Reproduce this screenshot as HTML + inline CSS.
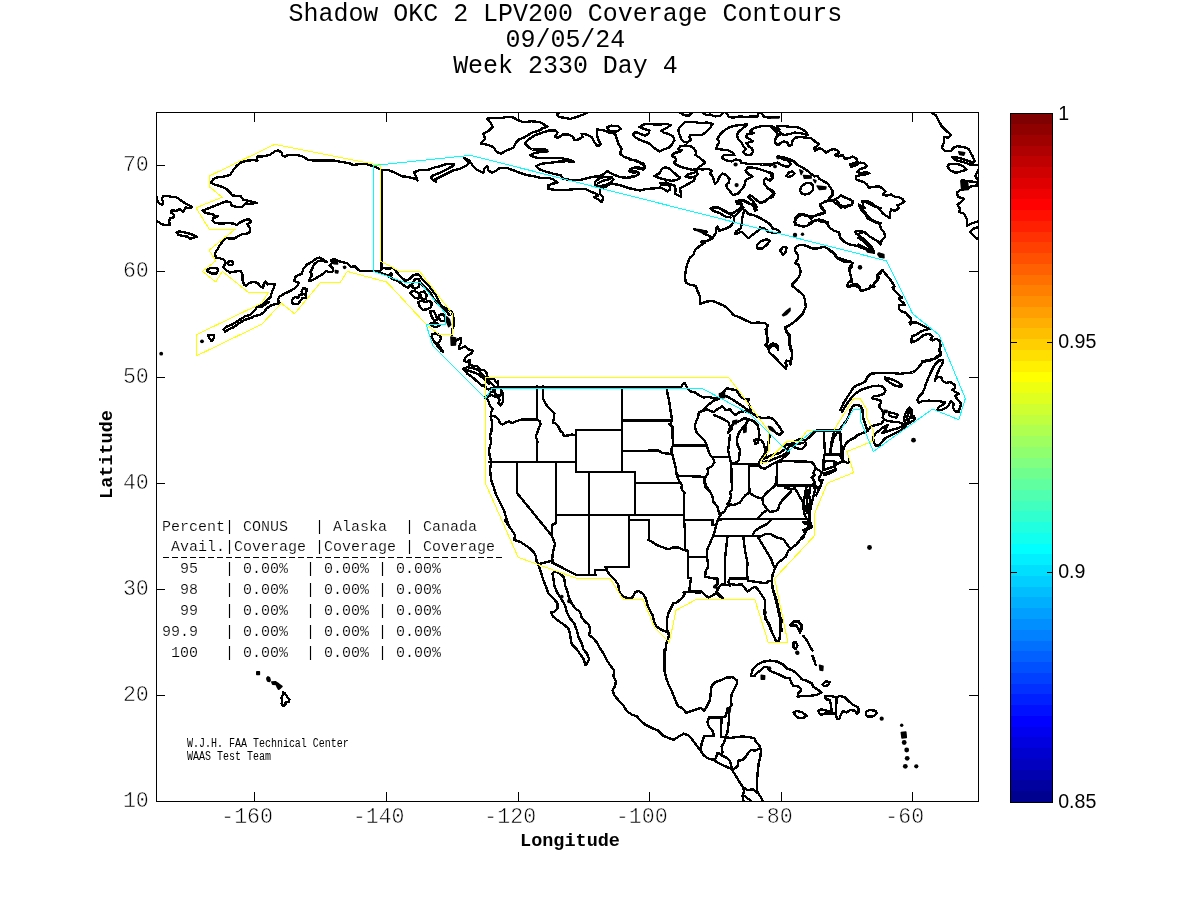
<!DOCTYPE html>
<html><head><meta charset="utf-8"><title>Shadow OKC 2 LPV200 Coverage Contours</title>
<style>
html,body{margin:0;padding:0;background:#fff;}
body{width:1200px;height:900px;overflow:hidden;position:relative;font-family:"Liberation Mono",monospace;}
svg{position:absolute;left:0;top:0;will-change:transform;opacity:0.9999;}
text{font-family:"Liberation Mono",monospace;fill:#000;}
.sans{font-family:"Liberation Sans",sans-serif;}
.tick{font-size:21.6px;stroke:#fff;stroke-width:0.55px;paint-order:fill stroke;}
.tbl{font-size:15px;stroke:#fff;stroke-width:0.2px;white-space:pre;}
.title{font-size:24.95px;text-anchor:middle;}
.axl{font-size:18.5px;font-weight:bold;text-anchor:middle;}
.cb{font-size:19.6px;}
.sm{font-size:10px;white-space:pre;}
</style></head><body>
<svg width="1200" height="900" viewBox="0 0 1200 900">
<rect x="0" y="0" width="1200" height="900" fill="#fff"/>
<defs><clipPath id="mc"><rect x="156.5" y="112.5" width="822" height="688.5"/></clipPath></defs>
<g clip-path="url(#mc)" fill="none" stroke-linejoin="round" stroke-linecap="round">
<path stroke="#000" stroke-width="2.4" shape-rendering="crispEdges" d="M350,163.3 341.7,162 333.3,160.3 325,160.3 316.7,160.7 308.3,160 303.3,156.7 296.7,155 288.3,154.7 285,156.7 282.5,155.8 281.7,152.5 278.3,150.5 275,151.3 270,154.7 263.3,156.3 256.7,156.7 257.5,160.8 254.2,160 246.7,160.8 240.8,162.5 236.7,165.8 233.3,170 230,175 223.3,176.7 216.7,177.5 213.3,179.2 210.8,182.5 215,184.7 221.7,186.7 226.7,189.2 230,192.5 232.5,195.5 240.8,196.3 243.3,199.7 250,201.3 256.7,202.8 250,204.2 245.8,203.3 242.5,206.7 236.7,207 231.7,205.8 230.8,202.5 226.7,201.3 221.7,203 215,205.8 208.3,208.3 202.5,210.8 205.8,213 212.5,214.2 214.2,215.8 218.3,216.3 213.3,218 212.5,220.8 215,223 221.7,223.7 228.3,223 234.2,223.7 236.7,225 240,222.5 245.8,219.7 249.2,219.2 251.3,222 247.5,224.2 250,228.3 250,232 245.8,234.2 241.7,234.2 237.5,236.7 234.2,238.7 228.3,238.3 226.7,237.5 223.3,240.8 220,245 217.5,249.2 215,253.3 215.8,257.5 220,258.3 224.2,259.7 225.8,263.3 223.3,266.7 225.8,270 230,272.5 236.7,271.3 240.8,270.8 242.5,275 242.5,280M227.5,262.5 230,260.8 233,262 233,264.3 230.3,265.3 228,264.3ZM176.7,232.5 179.2,231.3 185,232.5 190,233.7 196.7,236.7 192.5,238 190.8,239.2 187.5,236.7 182.5,235.8 178.3,235ZM156.7,196.7 157.5,200.8 159.2,203.3 162.5,204.7 163.3,201.7 161.7,199.2 163.3,196.3 166.7,195.8 171.7,197 175,196.7 178.3,198.3 182.5,201.7 187.5,204.5 191.7,207 190,208.3 185.8,207.5 183.3,211.7 180.8,209.7 179.2,209.2 176.7,210.8 171.7,210.5 170.8,212.5 174.2,215 173.3,217.5 170,218.3 169.2,221.3 170,224.7 165.8,225 161.7,224.2 156.7,220.8M206.7,270 210.8,268 216.7,268.3 218.3,269.7 216.7,273.3 212.5,273.7 208.3,271.7ZM242.5,280 243.9,284.4 246.2,285.6 249.8,282.7 253.8,281.7 257.9,283.2 260.8,286.8 263.2,287.9 263.8,283.8 265.5,281.7 267.8,284.4 271.3,283.8 274.8,283.8 274.2,286.8 272.5,290.2 271.3,294.3 270.2,297.8 267.2,299.6 264.3,303.1 260.8,305.4 257.3,306.6 255,310.1 251.5,313.6 249.2,315.3 245.7,315.9 242.2,318.2 237.5,321.2 231.7,324.7 227,326.4 223.5,329.3 225.2,331.7 228.8,329.3 234,327 238.7,323.5 244.5,320 251.5,317.7 255,315.9 259.7,314.8 263.8,312.4 266.7,308.3 271.3,305.4 276,303.9 279.5,303.1 277.8,299.6 279.5,296.7 284.2,293.8 289.4,291.4 293.5,289.1 297.6,285.6 298.8,282.7 294.1,280.9 295.8,276.2 301.7,273.9 303.4,268.7 306.9,264.6 312.2,261.7 315.7,258.8 319.2,257.6 322.7,259.3 326.8,261.7 322.7,261.1 318,261.1 313.9,264.6 312.2,268.7 310.4,272.2 312.2,275.1 309.8,278.6 309.2,280.9 313.3,279.8 319.2,276.2 323.8,273.3 326.2,271 329.7,272.2 332.6,271.6 333.2,268.7 329.7,265.2 332,262.8 331.4,259.9 334.9,258.8 337.8,261.1 342.5,262.2 347.2,263.4 351.2,266.9 354.8,266.3 358.2,269.8 360,271M257.3,306.6 260.8,307.2 264.9,304.8 269,301.9M291.8,301.3 292.9,298.4 295.2,297.2 298.2,297.8 299.3,294.9 302.8,294.3 301.7,291.4 303.4,287.9 306.9,289.1 306.3,292 305.2,294.9 306.3,297.8 302.2,298.4 300.5,300.8 298.2,303.7 294.7,304.2 292.3,303.1ZM208.3,335 214.2,335 214.2,337.5 211.7,341.2 209.2,338.3ZM350,163.7 353.3,165 360,164 366.7,164 373.3,166.2 379.2,168.7 381.7,170.3 388.3,170 395,172.8 401.7,176.2 408.3,177 415,178.7 417.5,180.3 415.8,176.2 414.2,172.3 420,170 426.7,170.3 433.3,167.8 440,166.2 446.7,164 454.2,163.7 453.3,165.7 446.7,169.5 440,172.8 433.3,175.3 430.8,177.8 435.8,182 435,179.5 440,177 446.7,173.7 453.3,170.3 460,168.7 466.7,165.3 469.2,162.8 464.2,157.8 469.2,160.3 472.5,165.3 476.7,169.5 483.3,172.8 484.2,168.7 487.5,166.2 488.3,170.3 491.7,172.8 496.7,170.3 500,167.8 506.7,167.8 513.3,170.3 520,172.8 526.7,175 533.3,176.2 540,177.8M381.3,170.5 381.3,270M540,122.3 531.7,121.2 523.3,122.3 516.7,119.5 511.7,116.7 506.7,117 500,118.3 493.3,117.8 486.7,118.7 490.8,122.8 492.5,127 488.3,131.2 483.3,133.7 485,138.7 480.8,143.7 486.7,144.5 493.3,147 496.7,152 500.8,153.7 506.7,150.3 513.3,147.8 515.8,142.8 519.2,139.5 525,137 531.7,132.8 540,130.3M540,122.3 543.3,124 547.5,126.7 541.7,128.7 540,130.3M525,143.7 528.3,139.5 535,135.3 541.7,132.8 548.3,130.7 555,130.3 557.5,132.8 555,137 558.3,137.8 562.5,134.5 568.3,134.5 573.3,137 574.2,140.3 578.3,139.5 582.5,137 581.7,133.7 586.7,134.5 591.7,137 594.2,142 597.5,146.2 600.8,144.5 598.3,139.5 596.7,134.5 596.7,129.5 603.3,130.3 610,132.8 615,133.7 616.7,138.7 618.3,143.7 621.7,148.7 620,153.7 624.2,157 631.7,159.5 638.3,162 644.2,165.3 644.2,168.7 640,167.8 636.7,167 631.7,168.7 629.2,171.2 633.3,172.8 638.3,172 638.3,174.5 633.3,177 626.7,177.8 620,177 613.3,174.5 607.5,171.2 603.3,174.5 598.3,176.2 591.7,177 585,178.7 578.3,180.3 570,180 563.3,178.7 560.8,175.3 553.3,173.7 546.7,172 540,169.5 535.8,166.2 541.7,163.7 550,162.8 558.3,161.7 566.7,161.2 574.2,161.7 568.3,159.5 561.7,158.3 553.3,157.8 545,157.8 536.7,157.8 530,155.3 535,152.8 541.7,152 547.5,151.2 545,149.5 538.3,149.5 532.5,149.5 528.3,147ZM606.7,127 611.7,125.7 618.3,126.2 620.8,128.7 617.5,131.2 612.5,131.7 608.3,130.3ZM587.5,112.3 583.3,114.5 576.7,117 570,119 565,117.8 559.2,117 556.7,114 560,112.3M595,182 600,177.8 606.7,176.7 611.7,177 613.3,179.5 610.8,182.8 605,185.3 598.3,186.2 595,184.5ZM598.3,183.3 603.3,180.7 610,179M540,177.8 548.3,177.8 553.3,179.5 557.5,182.8 552.5,183.7 548.3,185.3 548.3,188.7 555,190 563.3,190.3 571.7,189.5 578.3,188.7 585,188.7 590,191.2 595.8,193.7 598.3,195.3 594.2,197 598.3,199.5 601.7,202 603.3,197.8 600,193.7 600,188.7 605,187 610.8,183.7 616.7,184.5 623.3,186.2 630,188.7M639.4,127 643.8,124.5 648.8,123.9 654.4,124.5 660,124.5 666.2,123.9 670.6,125.1 666.2,128.2 661.2,130.8 663.8,132.6 668.8,133.9 673.1,136.4 674.4,140.1 671.9,144.5 668.8,147.6 663.8,149.5 659.4,151.4 656.2,149.5 652.5,146.4 648.8,143.2 643.8,141.4 638.8,139.5 635,137 633.1,134.5 635.6,132 640.6,133.9 645,135.8 648.8,133.2 649.4,130.1 645.6,129.5 641.9,128.2ZM678.8,128.2 682.5,124.5 685,122 692.5,121.8 700,123 707.5,122.6 712.5,123.9 710,128.2 706.2,132 701.9,135.1 696.2,135.1 690.6,135.1 688.8,137 691.2,139.5 687.5,142.6 683.8,142 681.2,138.9 679.4,134.5 678.5,131.4ZM698.1,168.9 692.5,169.8 686.2,168.2 681.2,167 676.9,165.1 673.8,162.6 676.2,160.1 675,157.6 671.9,155.8 675,152.6 680,152 681.9,150.1 678.1,149.5 680,146.4 685,145.5 690,146 693.8,148.2 696.2,152 695.6,155.1 699.4,157.6 702.5,160.1 705,162.6 701.9,165.1 698.8,167 698.1,168.9 702.5,169.5 708.1,168.9 711.9,170.8 710,173.2 712.5,176.4 713.8,180.1 715,183.9 717.5,181.4 719.4,177 722.5,173.5 726.2,175.1 729.4,178.9 728.8,182.6 726.2,184.5 726.9,187.6 730,191.4 733.1,195.1 737.5,193.9 741.2,190.1 744.4,185.8 745.6,180.1 748.8,178.2 752.5,176.4 748.1,173.9 745.6,170.8 747.5,167.6 752.5,167.6 758.8,168.9 766.2,171.4 771.2,173.2 771.9,178.2 768.8,180.1 765.6,178.2 763.8,180.1 764.4,183.9 767.5,188.2 771.2,190.8 773.8,193.2 770,197.6 765,200.8 760.6,203.2 756.2,200.1 753.1,197 750,195.1 748.1,197 751.9,200.1 755,203.9 756.9,207 755,210.8 753.1,205.1 750,203.9 745.6,200.8 740,200.1 736.2,201.4 736.9,203.9 741.9,204.5 742.5,206.4 738.8,209.5 733.8,212.6 730,213.9 725,210.8 720,208.2 715,207 710.6,208.2M654.4,176 659.4,173.2 661.9,168.9 665,167.2 670,168.9 673.8,172.6 677.5,175.8 680,177.6 676.9,180.1 671.2,180.8 665,179.5 659.4,178.2ZM685.6,177 688.8,173.9 693.8,173 696.9,170.8 697.5,174.5 694.4,177 690,177.6ZM630,188.2 635,189.5 640,190.5 646.2,188.9 653.8,188.5 660,187.6 663.8,188.9 667.5,191.4 670,189.5 670,186.4 666.2,184.5 661.2,185.1 660.6,183 666.2,182.6 671.2,184.5 675,185.8 675.6,190.1 675,193.9 681.2,197 680.6,192.6 680,188.2 685,185.8 689.4,183.2 693.8,180.8 695,177.6M746.9,124.5 740,125.1 733.8,125.8 728.8,127.6 723.8,130.8 720,134.5 717.5,138.9 719.4,142 717.5,145.1 716.2,148.9 721.2,149.5 727.5,150.1 732.5,152.6 734.4,155.1 730,155.1 723.8,155.1 721.9,157.6 725,160.1 731.2,161.4 735.6,159.5 740,160.1 741.2,162.6 747.5,163.9 755,163.9 762.5,164.5 770,164.5 775,163.2 779.4,163.2M746.9,124.5 743.1,128.2 738.8,131.4 736.9,135.1 738.1,138.9 741.2,142 743.1,145.8 745.6,148.9 743.1,152 745.6,154.5 750.6,155.1 753.1,152 751.9,148.2 748.8,146.4 746.2,143.2 750,142 753.1,141.4 749.4,138.9 746.2,137 747.5,133.9 753.8,133.2 750,130.8 753.8,128.2 760,126.4 766.2,125.8 771.2,125.8 775,128.2 779.4,129.5M779.4,135.1 776.2,137 775,141.4 776.9,144.5 779.4,145.1M680,112.6 683.8,115.1 688.8,115.8 691.9,112.6M702.5,112.6 706.2,115.1 710,114.5 715,116.4 720,115.8 723.1,112.6M726.2,112.6 728.8,117 733.8,117.6 740,116.4 746.2,117 752.5,116.4 757.5,116.4 758.8,112.6M761.2,112.6 763.8,116.4 768.8,117.6 773.8,117 779.4,117M630,159.5 635,160.1 639.4,162 643.8,163.9 645,167.6 643.8,169.5 639.4,168.9 635,167.6 630,169.5M630,172 635,170.8 638.8,173.2 636.2,175.8 630,177M770,125.8 773.8,129.5 777.5,133.2 776.9,136.4 775,139.5 775,143.2 777.5,145.1 781.2,142.6 783.8,141.4 787.5,142.6 788.8,145.8 791.9,145.1 792.5,140.8 795,137.6 800,137 806.2,137.6 811.2,138.2 815,141.4 818.8,143.9 816.9,146.4 813.8,148.2 815,150.8 819.4,148.2 822.5,149.5 826.2,152.6 830,150.1 833.8,148.9 838.1,150.8 838.8,153.2 835,155.1 838.1,156.4 842.5,155.1 845,158.9 848.8,158.2 852.5,156.4 856.2,158.2 857.5,161.4 853.8,163.2 850,164.5 851.2,167 856.2,165.1 860,162.6 864.4,163.2 866.9,166.4 863.8,168.2 860,168.9 857.5,172 861.2,173.2 866.2,172 869.4,173.2 865,174.5 860,175.1 856.2,176.4 856.2,179.5 860,180.8 863.8,182 866.9,184.5 868.8,187.6 873.8,186.8 878.8,186.4 882.5,188.2 885.6,191.4 883.1,194.5 886.2,195.8 891.2,194.5 895,197 898.8,197 902.5,198.9 904.4,201.4 901.2,203.9 897.5,205.1 898.8,208.2 895,210.8 891.2,209.5 890,213.2 890,218.2 886.2,215.8 882.5,213.2 880,209.5 877.5,207 873.8,205.1 870,202 866.2,200.8 862.5,202 863.1,205.8 865,208.2 862.5,208.2 858.8,204.5 860.6,208.9 863.1,212 865.6,213.9 867.5,218.2 871.2,220.1 876.2,222.6 880,223.9M776.9,126.4 782.5,125.8 790,126.8 796.9,127 802.5,129.5 806.9,132.6 807.5,135.1 801.2,133.2 795,132.6 790,133.9 785,135.1 781.2,133.9 778.8,130.8ZM770,165.8 773.8,163.2 777.5,162.6 780.6,164.5 785,166.4 788.8,166.4 790.6,163.9 788.8,160.8 783.8,159.5 779.4,157.6 777.5,156.4 782.5,157 788.8,158.9 793.8,161.4 797.5,165.1 802.5,167.6 807.5,170.8 811.2,173.9 814.4,176.4 817.5,175.8 819.4,178.9 823.8,181.4 827.5,183.2 830,187 832.5,190.8 832.5,195.1 829.4,198.2 831.2,200.8 835,199.5 838.1,197.6 840.6,195.1 845,197.6 850,199.5 853.1,201.4 851.9,205.1 846.2,205.8 841.2,207.6 838.1,205.1 835,202.6 830,199.5 825,201.4 820,204.5 821.2,208.2 825,211.4 822.5,213.9 817.5,215.1 812.5,216.4 811.2,219.5 808.8,216.4 803.8,214.5 798.8,214.5 795.6,217.6 794.4,222 795,224.5M808.8,223.2 813.8,220.8 818.8,219.5 823.8,220.8 828.1,222.6M800,190.1 801.9,185.8 806.2,183 810.6,183.2 813.1,185.8 813.1,190.1 810,193.2 805,194.5 801.2,193.2ZM786.2,175.8 788.8,172.6 792.5,171.4 794.4,173.2 792.5,175.8 788.8,177ZM770,172 772.5,173.9 773.1,177.6 771.2,180.1 770,180.8M770,189.5 773.1,190.8 774.4,193.2 772.5,197 770,198.2M931.7,112.8 935.8,115.3 938.3,120.3 941.7,126.2 946.7,131.2 950.8,134.5 948.3,137.8 944.2,137 944.2,142 941.7,147.8 945,151.2 950.8,151.2 953.3,147.8 957.5,146.2 963.3,147 968.3,148.7 971.7,154.5 975,161.2 973.3,162.8 966.7,160.3 958.3,157.8 951.7,157 955.8,160.3 963.3,162 970,164.5 978.3,165.3M950,163.7 947.5,166.2 950,170.3 955.8,172.8 961.7,171.2 966.7,169.5 963.3,166.2 956.7,163.7ZM978.3,170.3 975,176.2 978.3,180.3M961.7,180.3 968.3,181.2 975,182 978.3,182.8M962.5,182.8 966.7,187.8M978.3,185.3 971.7,186.2 966.7,188.7 960,190.3 956.7,192.8 958.3,197 964.2,198.7 960,202.8 957.5,204.5 960,208.7 959.2,212 964.2,213.7 966.7,218.7 966.7,226.2 970.8,223.7 978.3,221.2M978.3,227 973.3,228.7 970,232 975,237 978.3,239.5M880,223.7 880.8,228.7 884.2,232 885,237 881.7,240.3 880.8,244.5 877.5,241.2 873.3,238.7 869.2,236.2 864.2,232 860.8,232.8 858.3,234.5M858.3,237.8 860,238.7 865,242.8 870,247.8 874.2,252.8 870,250.3 863.3,247 860,245.3 858.3,244.5M360,271.1 364,271.3 370.7,271.1 376,270.7 378.7,271.3 382.7,274 388,275.3 391.3,273.3 392,275.3 389.3,276.7 393.3,279.3 398.7,281.3 402.7,284.7 408,288 409.3,286 412,284M382,247.3 382,268 388,268.7 393.3,268 396,271.3 400,276 405.3,280.7 409.3,279.3 413.3,275.3 417.3,274 420,276 422.7,280 428,284.7 432,290 436,295.3 438.7,301.3 441.3,306 446.7,308.7 452,312 453.3,316.7 454,322 453.3,326.7 452,330 452,335.3M420,282.7 425.3,288 430.7,292.7 433.3,298 437.3,303.3 442.7,308.7 446.7,311.3 449.3,315.3M410,293.3 412.7,290.7 417.3,292 420,296 418,298.7 414,297.3ZM420,292.7 424,291.3 426.7,294.7 426,298.7 422.7,300 420.7,296.7ZM418,302 421.3,300.7 425.3,302 429.3,300.7 432,303.3 430.7,307.3 426.7,309.3 422.7,310 420,307.3ZM412,284 415.3,278.7 418.7,278.7 420,282.7 418.7,286.7 415.3,288.7 412.7,287.3ZM430,311.3 433.3,310.7 436,315.3 437.3,319.3 434.7,321.3 432,317.3ZM438.7,315.3 442.7,314 445.3,316.7 444.7,320.7 441.3,321.3 439.3,318.7ZM430.7,323.3 436,322.7 439.3,325.3 436,327.3 432,326ZM432,334 436,333.3 439.3,335.3 441.3,338 439.3,342 437.3,343.3 440,347.3 443.3,352 441.3,350.7 438,346.7 435.3,343.3 433.3,340 431.7,336.7ZM456,340.7 460.7,338 461.3,342 459.3,346 458.7,349.3 462.7,347.3 465.3,346 468,349.3 472.7,350.7 471.3,353.3 468,355.3 465.3,358 464,360.7 466.7,362 470,360 469.3,364.7 473.3,366 477.3,366 480,369.3M480,369.4 485,370.6 486.9,373.8 486.9,376.9 490,378.8 494.4,379.4 496.2,382.5 498.1,381.2 498.1,386M463.1,368.8 467.5,367.2 472.5,368.1 476.9,369.4 480.6,372.5 483.8,375.6 487.5,379.4 491.2,383.1 494.4,386.2 495,390 491.9,388.1 488.8,389.4 485.6,388.1 485,385 481.9,385.6 479.4,383.1 476.9,381.2 474.4,378.8 471.2,376.2 467.5,373.8 465,371.2ZM466.2,370 472.5,371.9 478.8,374.4 483.8,378.8 488.8,383.8M485,397.5 488.1,395 491.2,391.9 494.4,391.2 495.6,394.4 499.4,396.2 501.9,393.8 501.2,389.4 503.1,395 503.1,401.2 500.6,405.6 498.1,403.1 500,400 498.1,397.5 494.4,396.2 491.2,395 488.1,396.9 486.9,398.8 488.8,401.9 490,406.2 492.5,408.8 491.2,412.5 490.6,416.9 491.9,421.2 491.9,426.2 491.2,432.5M491.5,415.6 496.2,416.9 498.8,420 500,423.1 502.5,424.4 506.2,422.5 509.4,421.2 511.9,423.1 516.2,421.2 522.5,419.4 528.8,419.4 536.9,419.4M536.9,386.2 536.9,419.4 540,421.2 540.6,424.4 538.8,427.5 537.5,432.5M543.1,386.2 543.1,398.8 545.6,403.8 548.8,408.1 551.9,411.2 554.4,413.1 553.8,418.1 553.1,422.5 556.2,423.8 558.8,427.5 560.6,431.2 563.1,433.1M681.2,387.1 683.1,383.8 685,383.1 686.2,386.2 687.5,388.8 690,391.2 695,392.5 698.8,395 703.8,397.5 708.8,396.9 713.8,398.1 718.8,398.8 713.8,400.6 708.8,404.4 705,408.1 701.9,411.2M720,395 723.8,391.9 726.9,388.1 731.2,389.4 736.2,390 738.8,393.8 741.2,397.5 745,399.4 748.8,398.8 748.1,402.5 750,406.9 750.6,411.2M725,395.6 730,398.1 736.2,401.9 742.5,406.2 748.8,410.6 751.2,412.5M701.9,411.2 706.9,409.4 711.2,411.2 713.8,411.9 718.1,408.8 722.5,406.2 725.6,410 730,409.4 732.5,412.5 735.6,415 740,411.9 745,411.2 750,412.5M701.9,411.2 698.8,412.5 698.1,417.5 696.2,421.2 695,425 695.6,430 696.9,433.1 701.2,436.9 705,441.2 706.9,445 708.1,450 710,455 713.1,458.1 714.4,462.5 711.9,466.2 707.5,468.8 708.1,473.1 705.6,476.9 704.4,481.2 706.2,485.6 707.5,488.1M713.8,415 720,417.5 725,420 728.8,422.5 730,427.5 728.1,433.1M728.1,433.1 731.2,430 732.5,425 733.1,422.5 737.5,421.9 741.2,420 745,418.1 748.8,419.4M730,435 729.4,440 728.8,445 728.1,450 729.4,456.2 730.6,461.2 732.5,463.8 736.2,462.5 738.8,460 739.4,455 740,450 737.5,445 736.9,440 738.1,435 740,431.2 742.5,428.1 745.6,425 746.9,421.9 748.8,419.4M748.8,419.4 753.8,421.2 757.5,425 758.8,430 759.4,435 758.8,438.8 757.5,443.1 755,443.8 754.4,440 756.2,439.4 758.8,439.4 761.2,440 763.8,443.8 765,448.8 765.6,452.5 763.8,455 761.9,458.1 760,461.2M751.2,412.5 756.2,416.2 762.5,418.1 768.8,417.5 773.1,418.8 776.2,422.5 780,427.5 782.5,431.9 780,435 776.2,433.1 773.1,430 770,427.5M770,435 768.8,440 768.1,445 766.9,450 765.6,452.5M666.9,387.5 667.5,393.8 669.4,402.5 670.6,411.2 671.9,418.8 671.2,423.1 669,424.4 672.5,426.2 672.5,435 673.1,445.6 671.2,448.8 671.9,453.1 673.8,460 675.6,467.5 676.9,475.6 679.4,481.2 681.9,485 681.2,488.1M648.8,450.6 658.8,450.6 662.5,453.1 670,453.8 671.9,453.1M673.1,445.6 706.9,445.6M676.9,475.6 705.6,476.9M713.1,456.9 728.8,456.9M732.5,464 758.8,464M759.2,461.7 762.5,459.2 766.2,457.9 770.8,455.4 775,454.2 779.2,453.3 783.3,450.4 785.8,448.8 788.3,450.8 789.2,452.5 786.7,455 783.3,457.9 781.2,460 778.3,461.2 775,462.9 770.8,465 767.9,466.7 764.6,468.8 760.8,467.5 758.8,464.6ZM762.5,462.5 769.2,460.8 774.2,458.8 778.3,457.1 781.7,455.8 785,453.8 787.5,451.7M766.2,454.2 764.2,456.7 761.2,459.2 759.2,461.7M783.8,445 787.1,443.8 791.7,443.8 795,441.2 798.3,439.6 801.7,438.8 804.6,440.4 806.2,444.2 804.2,446.7 802.5,448.8 799.2,448.8 795.8,447.9 793.3,446.7 790.8,445.8 788.3,447.5 786.7,450 785,448.3ZM787.5,445 793.3,445 798.3,443.8 803.3,442.9M804.6,440.4 807.5,438.8 810.8,435.8 814.2,432.5 815.8,430.7 839.6,430.4M824.2,430.7 824.2,440.8 825,453.3 824.2,456.7 823.3,461.7 823.3,470M837.5,432.5 834.2,436.7 832.5,441.7 831.2,447.5 830,454.6M840,430.7 840.8,436.7 841.2,445 841.7,453.3M825,454.6 841.7,454.6M823.8,461.7 829.2,460.8 834.2,461.2 836.7,462.9M834.2,461.2 835,466.7M841.7,453.3 843.3,456.7 841.7,459.2 844.2,461.7 847.5,462.9 849.6,461.7 848.8,459.2M823.3,470 830,467.9 835,465.8 838.3,463.3 841.7,461.7 844.2,461.7M823.3,473.3 827.5,472.5 831.7,470.8 835.8,468.8 835.8,470 832.5,472.1 828.3,473.8 824.2,475ZM777.1,461.7 782.9,461.2 804.2,461.4 812.5,462.5 814.2,465 815.8,468.3 814.2,470.8 813.3,473.3 814.6,475 811.7,477.5 813.3,480 815,482.1 813.3,484.2 811.7,485.4 777.1,485.4 777.1,461.7M815.8,468.3 819.2,470.4 821.7,472.1 820.8,475 819.2,477.5 819.2,480 821.7,481.7 820.8,485.8 819.2,489.2 817.5,492.5 816.2,495.4M749.2,465.4 758.8,465.4M496.5,387 680.6,387M489,462 576,462M537,442 537,462M517,462 517,493 552,536M556,462 556,523 552,525 552,536 555,544 553,552 552,560M556,515 629,515M576,462 576,472 589,472M589,472 589,575M576,430 622,430 622,472 576,472 576,430M622,387 622,430M589,472 635,472 635,515M622,451 659,451M635,483 680,483M629,515 684,515M629,515 629,520 649,520 649,540M629,520 629,567 605,567M606,570 595,570 595,575 589,575M684,492 684,520 685,531 685,550M684,520 713,520 712,525 716,525M688,557 707,557M685,550 688,551 688,578 691,578 690,585 689,592M623.1,420.3 672.3,420.3M563,433 563.8,436.2 567.5,435.5 572.5,434.5 576.2,435.5M537.5,432.5 535.8,436 537,440 537.7,442.5M491.2,432.5 490,435 491.2,442.5 488.8,450 490,457.5 491.2,461.2 490,470 491.2,480 493.8,487.5 496.2,495 500,502.5 503.8,510 506.2,517.5 508.8,526.2M681.2,488 683,491 685.1,492.8M505,520 507.5,524.2 511.7,530 515,535 514.2,540 520,541.7 525,545 530,548.3 533.3,551.7 535.8,555.8 536.7,561.7 538.3,564.2 551.7,560.8 552.8,560.3M552.9,560.3 552.3,562.7 576.9,575.1 595.8,575.1M606.2,568 606.8,570.3M648.3,540 651.7,541.7 656.7,545 663.3,547.5 668.3,549.2 673.3,547.5 678.3,547.5 683.3,550 688.3,550.8M606.7,570.3 610,575 615,580 618.3,585 619.2,591.7 623.3,596.7 628.3,598.3 632.5,597.5 635,592.5 638.3,590.8 642.5,593.3 645.8,598.3 647.5,605 650,610.8 652.5,615 654.2,621.7 656.7,626.7 661.7,630 666.7,631.7 669.2,635M664.2,670.8 665,653.3 666.7,641.7 669.2,635 666.7,628.3 666.7,620 668.3,613.3 671.7,606.7 673.3,603.3 676.7,602.5 681.7,598.3 685,594.2 683.3,592.5 690,591.7 696.7,592.5 700,593.3M538.3,564.2 540.8,571.7 543.3,580 546.7,588.3 548.3,593.3 553.3,598.3 557.5,603.3 557.5,608.3 554.2,611.7 550.8,612.5 553.3,616.7 558.3,620.8 563.3,624.2 568.3,628.3 570,633.3 570.8,640 571.7,644.2 576.7,649.2 580.8,655 584.2,660 585,665 586.7,664.2 589.2,659.2 586.7,653.3 583.3,649.2 581.7,643.3 578.3,636.7 576.7,630 574.2,623.3 570,618.3 566.7,611.7 565,605 560.8,598.3 556.7,591.7 554.2,585 553.3,578.3 552.5,573.3 555,571.7 558.3,572.5 564.2,577.5 565,585 567.5,591.7 569.2,598.3 571.7,603.3 575,608.3 580,611.7 581.7,617.5 585,621.7 589.2,625 590,630 589.2,635 593.3,638.3 597.5,643.3 600,648.3 603.3,653.3 606.7,660 610,665 613.3,669.2M704.2,479.2 705,486.7 710,491.7 712.5,496.7 713.3,501.7 717.5,506.7 719.2,513.3 720,515.8 717.5,520.8 715.8,526.7 714.2,533.3 712.5,537.5 710,543.3 707.5,548.3 706.7,554.2 707.5,560 708.3,566.7 705.8,570.8 705,576.7 713.3,578.3 717.5,578.3 717.5,584.2 714.2,586.7 718.3,588.3 715.8,593.3M720,516.2 721.2,513.1 724.4,511.9 726.2,508.1 728.1,506.2 730,504.4 733.8,505 736.9,503.8 740,502.5 742.5,498.8 745,495.6 749.4,492.5 752.5,495 757.5,497.5 761.9,498.1 763.8,496.2 766.2,493.1 770,490 773.8,486.9 775.6,484.4 776.2,477.5M762.5,498.8 763.1,503.8 766.2,508.1 770,511.9 775,511.2 778.1,509.4 779.4,505 781.9,500.6 785,497.5 788.8,493.8 791.2,491.2 790,488.8 785,486.9M766.2,510.6 762.5,513.1 760,516.2 758.1,518.1M731.2,463.1 731.9,490 730,492.5 731.2,496.2 729.4,501.2 727.5,503.8 728.1,506.2M748.8,464.4 749.4,492.5M717.5,520.8 721.7,519.3 758.3,519.2 808.3,518.7M713.3,536.2 760.8,536.2M770.8,520 766.7,524.2 760,527.5 755,530.8 752.5,535.8M758.3,537.5 765,534.2 770.8,534.2 776.7,537.5 783.3,539.2 790,548.3 792.5,547.5M758.3,537.5 761.7,543.3 766.7,551.7 770.8,558.3 773.3,565 775,568.3M743.3,536.7 745,550 747.5,563.3 746.7,573.3 748.3,580.8 756.7,582 766.7,583.3 768.3,580.8 771.7,580.8M727.5,536.7 725,558.3 725,584.2M730,585.8 728.3,581.7 730,578.3 746.7,578.3M686.7,592 690,591.7 696.7,590.8 701.7,591.7 705,595 708.3,597.5 713.3,595 715.8,593.3 720,596.7 723.3,598.3 720,595 716.7,591.7 719.2,586.7 721.7,584.2 728.3,585 731.7,584.2 736.7,585 741.7,584.2 745,588.3 747.5,591.7 751.7,588.3 755,586.7 758.3,590 761.7,595 765,600 765,606.7 764.2,613.3 766.7,620 770,625 770.8,630.8M808.3,519.2 810,525 806.7,528.3 803.3,530 805,533.3 803.3,537.5 800,540 796.7,544.2 792.5,547.5 788.3,550.8 785.8,556.7 781.7,560 777.5,563.3 775,568.3 772.5,575 771.7,581.7 772.5,588.3 775,596.7 777.5,606.7 780,618.3 781.7,630.8M771.7,581.7 773.3,590 776.7,600 779.5,613.3 780.5,630.8M777.5,485.3 813.3,485.3M785,487.5 790,489.2 795,488.3 798.3,494.2 801.7,500 804.2,505 806.7,511.7M806.7,486.7 805,493.3 804.2,500 803.3,506.7 804.2,513.3 806.7,519.2M810,486.7 809.2,495 810,501.7 808.3,508.3 809.2,515 810,520M807.5,490 807,513.3M813.3,485 815,490 813.3,496.7 811.7,503.3 810,511.7 809.2,518.3M813.3,479.2 815,485 817.5,488.3 820,486.7 822.5,480M803,521.7 810.8,522.5 811.7,527.5 806.7,530 804.2,535 801.7,537.5M804.2,523.3 809.2,525 807.5,528.3M790,625 793.3,621.7 798.3,620.8 801.7,625 800.8,630.8M765,618.3 769.2,625 771.7,631.7 774.2,636.7 775.8,640.8 779.2,640.8 780,635 780.8,628.3 781.7,618.3M790,625 793.3,622.5 797.5,621.7 800.8,625 801.7,629.2 800,632.5 798.3,628.3 795.8,625 791.7,626.3ZM803.3,635.8 806.7,640 809.2,645 812.5,650.8M803.8,636.7 807.2,640.8 809.7,645.8 812,650.3M812.5,655.8 814.2,660.8 815.8,665M813,656.3 814.7,661.3 815.3,664.2M793.3,642.5 795.8,641.7 797.5,645.8 795.8,649.2 793.3,646.7ZM822.5,684.2 825.8,681.3 829.7,682 828.3,685 824.2,686.3ZM750.8,675.8 752.5,670 756.7,665 763.3,661.7 770,660.5 777.5,661.7 783.3,664.7 786.7,668.3 793.3,670.8 798.3,675 801.7,679.2 806.7,680.8 811.7,683.3 813.3,686.7 818.3,690 821.3,692.5 816.7,695 810,695.8 803.3,695.8 797.5,696.7 798.3,693.3 801.3,690 799.2,686.7 793.3,685.8 790.8,681.7 790,678.3 785,677.5 780,675 774.2,672.5 770,670.8 767.5,667.5 764.2,666.7 760.8,670 756.7,673.3 754.2,676.3ZM793.3,712.5 796.7,710.8 802.5,712.5 806.7,715.8 804.2,717.5 799.2,718.3 795.8,715.8ZM818.3,710.8 821.7,709.2 826.7,710.8 831.7,711.3 830.8,705 830,700 825.8,699.2 825,696.3 830.8,695.8 836.7,697.5 840,695.8 845,697.5 848.3,700.8 853.3,705 858.3,707.5 858.3,712.5 856.7,714.2 855,710.8 850,710 846.7,712.5 843.3,710.8 840.8,715 839.2,719.2 836.7,718.3 835.8,713.3 830,713.3 825,713.3 821.7,715 819.2,713.3ZM836.7,697.5 835.8,713.3M865.8,711.7 869.2,710 875.8,710.8 876.7,713.3 873.3,716.3 867.5,716.7 865.8,714.2ZM613.3,669.1 614.3,671.8 613.4,676 615.9,681 615.1,686.1 612.6,690.3 614.3,695.3 618.5,700.3 623.5,705.4 626.8,711.2 631.9,714.6 636.9,716.3 640.3,720.5 645.3,724.7 652,728 657.9,730.5 662.9,735.6 668.8,738.1 673.8,739.8 678.9,736.4 683.9,733.6 688.9,735.6 693.1,740.6 697.3,746.5 700.7,750.7 703.2,754.9 707.4,758.2 713.3,759.9 717.4,762.4 724.2,765.8 730,768.3 732.6,770.8 735.9,775.8 739.3,781.7 742.6,786.7 744.3,790.9 742.6,796 743.5,801M664.6,649.2 664.1,660.1 664.6,670.1 666.3,678.5 668.8,685.2 672.1,691.9 674.7,698.7 678,706.2 682.2,707.9 686.4,712.9 690.6,711.2 695.6,709.6 700.7,707.9 704,711.2 707.4,705.4 709.9,700.3 710.7,693.6 711.6,686.1 715.8,681.9 720.8,680.2 725.8,677.7 732.6,677.2 736.7,680.2 736.7,684.4 734.2,689.4 731.7,694.5 730.9,700.3 731.7,705.4 729.2,707.9 729.2,717.1 728.4,725.5 727.5,732.2 725.8,736.4 729.2,738.1 735.9,737.2 742.6,736.4 749.3,737.2 754.4,738.1 756,742.3 759.4,745.6 761.1,750.7 760.2,757.4 758.6,764.1 757.7,772.5 756.9,780.9 756.9,789.3 757.7,792.6 761.1,797.7 762.8,801.8M700.7,750.7 701.5,744 704,736.4 714.1,735.6 712.4,730.5 709.1,727.2 707.4,722.1 709.1,717.1 721.6,716.8 720.8,737.2 725.8,737.2M709.1,717.6 721.6,717.6M721.6,717.1 725.8,716.3 727.5,708.7 730,707.9M725.8,737.2 724.2,742.3 721.6,746.5 722.5,752.3 720.8,754 717.4,753.2 715.8,758.2 713.3,759.9M720.8,754.9 725.8,757.4 730,760.7 731.7,767.4M731.7,768.3 734.2,769.1 737.6,765.8 738.4,760.7 742.6,759.9 746,756.5 748.5,752.3 751,749.8 754.4,750.7 758.6,749M743.5,787.6 747.7,790.1 752.7,789.3 756.9,792.6M745.1,796 747.7,798.5 751,800.7M694.2,229.2 700,230.8 706.7,231.7 703.3,233.3 709.2,235.8 712.5,238.3 707.5,240.8 700.8,241.7 705,242.5 700,245.8 695,250 693.3,255 690,257.5 687.5,263.3 685.8,270 685,276.7 685.8,282.5 690.8,285 695.8,285.8 697.5,290.8 700,296.7 700,304.2 705.8,301.7 712.5,300.8 718.3,303.3 724.2,305.8 729.2,310 733.3,315 740,317.5 746.7,320.8 751.7,323 758.3,322.5 765,323.3 767.5,325 766.7,331.7 767.5,338.3 766.7,345 770,348.3 773.3,343.3 776.7,345 778.3,350M790.8,350.8 789.2,343.3 790,335 786.7,332.5 785,327.5 790,325 796.7,320 802.5,314.2 805.8,306.7 805,300 803.3,295 798.3,290.8 793.3,286.7 791.7,285 795.8,280.8 799.2,276.7 800.8,271.7 799.2,266.7 798.3,264.2 795,263.3 798.3,258.3 797.5,254.2 795,250.8 795.8,246.7 800,244.7 806.7,245.8 811.7,248.3 818.3,248.3 824.2,246.7 829.2,249.2 834.2,253.3 837.5,257.5 844.2,260 851.7,262.5 851.7,266.7 849.2,270 850.8,276.7 851.7,281.7 848.3,282.5 847.5,286.7 853.3,285.8 858.3,286.7 860.8,290.8 865.8,290 871.7,286.7 874.2,283.3 876.7,280 877.5,275 880.8,273.3M712.5,238 715.8,233.3 715.8,228.3 717.5,226.7 719.2,230.8 724.2,229.2 730,226.7 734.2,221.7 734.2,216.7 730,214.2 723.3,210.8 718.3,207.5 710.8,208.3 713.3,210.8 720,213.3 725.8,216.7 730.8,217.5M734.2,216.7 738.3,212.5 743.3,207.5 740.8,204.2 737.5,202.5 743.3,200.8 748.3,203.3 755,205 756.7,210M744.2,210 742.5,216.7 741.7,223.3 740.8,228.3 735.8,231.7 735,234.2 741.7,231.7 745.8,235.8 748.3,238.3 753.3,234.2 759.2,230 760,227.5 764.2,228.3 768.3,231.7 775,233.3 780,232.5 778.3,230 772.5,228.3 770,224.2 765,220.8 759.2,217.5 753.3,215 748.3,214.2 745.8,210.8ZM756.7,245.8 760,241.7 766.7,239.2 770,240.8 766.7,245 762.5,248.3 757.5,248.3ZM780,250.8 783.3,246.7 786.7,247.5 785.8,251.7 783.3,255ZM755.8,199.2 760,202.5 765,201.7 767.5,199.2M830,200.8 825,201.7 820,204.2 822.5,207.5 825,212.5 818.3,214.2 813.3,216.7 808.3,215.8 801.7,215 796.7,217.5 795,221.7 796.7,225 803.3,226.7 809.2,225 813.3,221.7 817.5,220 821.7,221.7 826.7,222.5 829.2,227.5 834.2,230.8 839.2,232.5 840,237.5 844.2,241.7 846.7,243.3 851.7,245 856.7,245.8 863.3,248.3 870,250.8 874.2,252.5 871.7,246.7 866.7,241.7 861.7,237.5 856.7,234.2 855,231.7 860,230.8 865,232.5M835.8,199.2 840,205 845,207.5 851.7,205 853.3,200.8M859.2,205 863.3,210 868.3,216.7 873.3,220.8 880.8,223.3M862.5,200.8 868.3,203.3 875,206.7 880.8,208.3M829.4,250.6 833.8,253.1 836.2,257.5 840,260 845,261.9 850,261.2 852.5,263.1 850,266.2 848.8,269.4 850.6,275 851.9,280.6 848.8,281.9 847.5,285 849.4,286.9 852.5,284.4 856.9,283.8 859.4,286.2 860,290 864.4,290 868.8,288.8 870.6,285.6 874.4,286.9 873.8,283.8 878.1,279.4 878.8,276.9 876.9,275.6 878.8,273.1 882.5,270 884.4,272.5 888.1,276.9 891.9,281.9 894.4,286.2 892.5,287.5 895.6,291.9 898.1,294.4 901.9,297.5 898.8,298.1 901.2,301.2 903.8,303.1 905,305 901.9,305 898.8,305.6 899.4,309.4 902.5,311.9 905.6,312.5 908.1,315.6 910.6,318.1 911.2,321.9 909.4,322.5 910.6,324.4 912.5,322.5 916.2,322.5 920,324.4 925,326.9 930,328.8 925,330 920,331.9 916.2,335 911.9,336.2 911.2,342.5 916.2,340.6 920,338.1 923.8,335 928.8,333.8 932.5,336.2 930.6,339.4 932.5,340.6 936.2,338.8 940,341.2 940.6,346.2 938.8,350 941.2,353.8 937.5,356.2 933.8,358.8 928.8,360 922.5,361.2M940,349.4 941.2,355 936.2,358.1 930,360.6 923.1,361.9 920,365.6 916.2,370 912.5,372.5 905,373.1 900,373.8 892.5,373.1 885,373.1 877.5,373.1 870.6,373.8 867.5,376.9 865.6,381.2 861.2,383.8 856.9,385 853.1,388.1 850,393.1 846.2,398.8 843.1,403.8 840.6,410M841.9,411.9 846.2,405 850.6,398.8 855,393.8 860.6,390 866.2,388.1 872.5,386.2 878.8,385.6 883.1,386.9 885.6,390.6 883.8,393.8 878.8,395.6 873.8,396.2 871.9,398.1 876.2,399.4 880,400 881.2,402.5 878.8,406.2 881.9,410 883.8,413.8 882.5,417.5 885,420 888.8,421.2 893.8,421.9 898.1,421.9 902.5,423.8 906.2,425M885,377.5 890,378.8 896.2,381.2 901.9,385 901.2,386.9 895,385.6 888.8,381.9 885.6,379.4ZM840,430 841.9,426.2 846.2,421.2 848.8,416.2 850.6,410 853.1,405.6 856.9,404.8 860.6,406.2 862.5,410 863.1,417.5 865,423.8 866.9,428.8 867.5,431.2M867.5,431.2 862.5,433.1 857.5,435 855,437.5 850,440 846.2,443.1 843.8,447.5 842.5,452.5 840.6,456.2 842.5,460M867.5,431.2 871.2,426.2 876.2,425 881.2,423.8 883.8,420M873.8,442.5 873.1,437.5 875.6,433.1 880,430 883.8,426.9 887.5,425 885,430 882.5,433.1 886.2,431.9 891.2,430 896.2,428.8 901.2,426.9 905,425 906.2,426.9 901.2,430 896.2,432.5 891.2,435 886.2,437.5 882.5,441.2 879.4,445 876.2,446.2ZM888.8,412.5 893.8,413.1 898.1,415 896.2,417.5 891.9,416.9 888.8,415ZM903.8,419.4 905,415 906.9,410.6 909.4,407.5 911.9,410 911.2,415 913.8,416.2 915,419.4 911.2,421.9 907.5,423.8 905,422.5ZM906.5,420 908.1,413.8 910,410M908.1,421.2 910.6,416.2 912.5,418.1M917.5,400 918.8,396.9 922.5,393.1 924.4,388.8 926.2,383.1 928.8,376.9 931.9,370 935,364.4 938.8,360.6 943.1,360 942.5,363.8 940,367.5 938.1,371.9 936.2,376.2 935,380.6 937.5,376.9 941.2,376.9 942.5,380.6 946.2,383.1 950,381.9 954.4,384.4 955,388.1 952.5,390 956.2,392.5 958.8,393.8 955,396.2 958.1,400 961.2,403.8 960,407.5 958.8,411.9 955,411.2 953.1,407.5 953.8,403.8 950.6,401.2 948.8,405 945.6,408.1 941.2,410 937.5,409.4 938.8,406.9 942.5,405 945,402.5 940,401.2 935,401.2 928.8,400.6 922.5,401.2 918.8,402.5ZM833.8,432.5 831.9,440 830.6,448.8 830,453.8M839.4,431.2 840.6,440 841.9,448.8 842.5,453.8M282.8,691.8 284.6,693.3 286.7,695.7 288,698.2 289.4,699.8 288.6,702 285.7,702.5 285.3,705.2 284,706.1 282.5,705.2 281.7,703.5 282.2,699.1 280.8,698.2 282.2,696.4 283,694.2ZM765.6,329.4 766.9,336.2 767.5,342.5 765,345 768.1,348.1 769.4,352.5 773.1,355.6 776.9,359.4 780,363.1 783.1,366.2 785.6,368.8 786.9,365.6 785,363.1 786.9,360.6 789.4,361.2 790.6,364.4 791.2,361.2 791.9,355 791.9,351.2 790.6,346.2 789.4,341.2 788.8,336.2 787.5,333.8 786.2,329.4M769.4,345.6 771.9,343.8 775.6,343.8 778.1,346.9 777.5,348.8 775.6,346.2 772.5,345.6 770.6,347.5"/>
<path stroke="#000" stroke-width="1.3" d=""/>
<path stroke="#000" stroke-width="1.5" fill="#000" d="M332,259.9 337.2,260.5 337.6,264 333.8,263.8ZM335.3,270.4 338.1,271 337.6,273.1 335.5,272.8ZM343.4,266.9 345.1,267.5 344.4,268.4ZM539.2,150 547.5,149.7 547.5,152 540,152ZM799.8,169.8 802.8,171.4 801.2,174.5ZM803.5,175.5 811,176 811.2,178 804.4,178.2ZM813.5,179.8 816,180.8 815.2,182.6ZM817.2,186 826,187 825.6,188.9 819.4,189.5ZM770,117 778.8,117 778.8,118 770,118ZM960.8,180.7 967.5,181.7 968.3,189.5 961.7,190ZM958.7,151.7 964.7,152.8 963.7,155.3 959.7,154.5ZM446.7,316.7 449.3,319.3 450.7,324.7 448.7,326.7 446.7,322ZM450.9,336.9 455.7,338 455.5,344.9 451.3,345.3ZM719.4,393.8 724.4,392.5 724.8,397.5 719.8,398.1ZM743.5,428.1 746.2,426.9 746,431.9 743.8,432.5ZM733.1,421 736.9,420.2 736.2,423.8 733.5,424ZM768.5,426.5 771.9,427.5 775,431.2 773.1,431.5 770,429.4ZM819.5,665.3 823,666.3 822.7,670.5 820,670ZM761.2,675.3 764.7,675.8 764.5,679.3 761.3,679.2ZM901.3,732.5 905.8,732 906.3,737.5 902,738ZM727.2,707.9 730.5,707.9 730,712.1 727.5,712.4ZM694.2,229.2 700.8,229.7 706.7,231.7 701.7,232.5ZM782.5,315 786.7,310.8 790,308.3 790,310.8 786.7,314.2 783.3,315.8ZM878.5,253.5 883.8,254.4 884,257.8 879.4,256.9ZM866.2,250 873.8,251 873.5,253.1 867.5,251.9ZM884,410.2 887.2,410.6 886.9,412.5 884.4,412.2ZM256.8,671.7 259.4,671.7 259.4,674.4 256.8,674.4ZM266.9,678 268,676.8 269.5,677.6 270.2,680.2 269.6,681.4 267.6,680.9 266.9,679.2ZM271.8,681.9 275.3,681.7 278.8,684 282,686.4 280.6,687.8 278.6,689.3 277.4,687.4 276.2,684.4 272.7,684.3Z"/>
<g fill="#000" stroke="none"><circle cx="202" cy="341.3" r="1.9"/><circle cx="161.2" cy="353.7" r="1.9"/><circle cx="736.6" cy="185.1" r="2.1"/><circle cx="735.6" cy="164.5" r="2.1"/><circle cx="775" cy="166.4" r="1.9"/><circle cx="778.1" cy="157.6" r="1.9"/><circle cx="880.8" cy="255.3" r="2.4"/><circle cx="344.7" cy="267.3" r="1.7"/><circle cx="561.7" cy="596.7" r="1.9"/><circle cx="569.2" cy="601.2" r="2.1"/><circle cx="765" cy="612.5" r="1.9"/><circle cx="715.3" cy="586.7" r="2.1"/><circle cx="869.5" cy="547.5" r="2.4"/><circle cx="797.5" cy="653" r="2"/><circle cx="769.2" cy="668.3" r="2.1"/><circle cx="881.7" cy="718.7" r="2.1"/><circle cx="901.7" cy="725.3" r="1.7"/><circle cx="904.2" cy="742.5" r="2.4"/><circle cx="906.7" cy="750" r="2.4"/><circle cx="907.2" cy="758.3" r="2.4"/><circle cx="905.3" cy="766.3" r="2.4"/><circle cx="916.3" cy="766.3" r="2.1"/><circle cx="903.7" cy="735" r="2.5"/><circle cx="797.1" cy="652.5" r="2"/><circle cx="704.4" cy="709.6" r="1.7"/><circle cx="795" cy="235" r="2.2"/><circle cx="802.5" cy="234.2" r="1.7"/><circle cx="860" cy="267.5" r="2"/><circle cx="879.2" cy="254.2" r="2"/><circle cx="860" cy="267.2" r="2.2"/><circle cx="913.5" cy="440.2" r="2.4"/></g>
<path stroke="#ffff00" stroke-width="1" shape-rendering="crispEdges" d="M274.9,144.3 380.1,165.5 380.1,260.8 399.8,271.4 419.5,271.4 452.4,313.8 452.4,334.9 439.3,334.9 426.1,324.3 386.7,282 347.2,271.4 340.6,282 320.9,282 294.6,313.8 281.4,303.2 261.7,324.3 196,356.1 196,334.9 261.7,303.2 268.3,292.6 248.6,292.6 222.3,271.4 215.7,282 202.5,271.4 215.7,260.8 209.1,250.2 235.4,229 209.1,229 196,207.8 222.3,197.2 209.1,186.6 209.1,176.1ZM485.3,377.3 728.6,377.3 768.1,430.3 768.1,451.5 760.2,462 766.8,462 787.1,441.4 799,441.4 807.5,430.3 833.8,430.3 853.6,398.5 860.1,398.5 866.7,409.1 866.7,417.6 873.3,430.3 873.3,440.9 847,451.5 853.6,472.6 827.3,483.2 814.1,515 814.1,536.2 774.6,578.6 787.8,642.1 768.1,642.1 754.9,599.7 695.7,599.7 676,610.3 669.4,642.1 655,628.3 643.1,599.7 623.4,599.7 610.2,578.6 577.4,578.6 518.2,557.4 485.3,483.2Z"/>
<path stroke="#00ffff" stroke-width="1" shape-rendering="crispEdges" d="M470.5,155.3 886.4,260.8 912.7,313.8 939,334.9 965.3,398.5 958.8,419.7 932.5,409.1 873.3,451.5 860.1,419.7 860.1,409.1 853.6,409.1 840.4,430.3 814.1,430.3 799,441.9 787.8,451.5 749.7,413.9 702.3,388.5 491.9,388.5 485.3,398.5 432.7,345.5 426.1,324.3 445.8,324.3 445.8,313.8 419.5,282 403.8,282 373.5,271.4 373.5,165.5Z"/>
</g>
<g stroke="#000" stroke-width="1" fill="none" shape-rendering="crispEdges">
<rect x="156.5" y="112.5" width="822" height="688.5"/>
<path d="M254.5,801 v-9 M254.5,112.5 v9 M386.5,801 v-9 M386.5,112.5 v9 M518.5,801 v-9 M518.5,112.5 v9 M649.5,801 v-9 M649.5,112.5 v9 M781.5,801 v-9 M781.5,112.5 v9 M912.5,801 v-9 M912.5,112.5 v9 M156.5,695.5 h8.5 M978.5,695.5 h-9.5 M156.5,589.5 h8.5 M978.5,589.5 h-9.5 M156.5,483.5 h8.5 M978.5,483.5 h-9.5 M156.5,377.5 h8.5 M978.5,377.5 h-9.5 M156.5,271.5 h8.5 M978.5,271.5 h-9.5 M156.5,165.5 h8.5 M978.5,165.5 h-9.5"/>
</g>
<g shape-rendering="crispEdges">
<rect x="1010.5" y="790.54" width="42" height="11.36" fill="#00008f"/><rect x="1010.5" y="779.78" width="42" height="11.36" fill="#00009f"/><rect x="1010.5" y="769.02" width="42" height="11.36" fill="#0000af"/><rect x="1010.5" y="758.26" width="42" height="11.36" fill="#0000bf"/><rect x="1010.5" y="747.50" width="42" height="11.36" fill="#0000cf"/><rect x="1010.5" y="736.74" width="42" height="11.36" fill="#0000df"/><rect x="1010.5" y="725.98" width="42" height="11.36" fill="#0000ef"/><rect x="1010.5" y="715.22" width="42" height="11.36" fill="#0000ff"/><rect x="1010.5" y="704.47" width="42" height="11.36" fill="#0010ff"/><rect x="1010.5" y="693.71" width="42" height="11.36" fill="#0020ff"/><rect x="1010.5" y="682.95" width="42" height="11.36" fill="#0030ff"/><rect x="1010.5" y="672.19" width="42" height="11.36" fill="#0040ff"/><rect x="1010.5" y="661.43" width="42" height="11.36" fill="#0050ff"/><rect x="1010.5" y="650.67" width="42" height="11.36" fill="#0060ff"/><rect x="1010.5" y="639.91" width="42" height="11.36" fill="#0070ff"/><rect x="1010.5" y="629.15" width="42" height="11.36" fill="#0080ff"/><rect x="1010.5" y="618.39" width="42" height="11.36" fill="#008fff"/><rect x="1010.5" y="607.63" width="42" height="11.36" fill="#009fff"/><rect x="1010.5" y="596.87" width="42" height="11.36" fill="#00afff"/><rect x="1010.5" y="586.11" width="42" height="11.36" fill="#00bfff"/><rect x="1010.5" y="575.35" width="42" height="11.36" fill="#00cfff"/><rect x="1010.5" y="564.59" width="42" height="11.36" fill="#00dfff"/><rect x="1010.5" y="553.83" width="42" height="11.36" fill="#00efff"/><rect x="1010.5" y="543.08" width="42" height="11.36" fill="#00ffff"/><rect x="1010.5" y="532.32" width="42" height="11.36" fill="#10ffef"/><rect x="1010.5" y="521.56" width="42" height="11.36" fill="#20ffdf"/><rect x="1010.5" y="510.80" width="42" height="11.36" fill="#30ffcf"/><rect x="1010.5" y="500.04" width="42" height="11.36" fill="#40ffbf"/><rect x="1010.5" y="489.28" width="42" height="11.36" fill="#50ffaf"/><rect x="1010.5" y="478.52" width="42" height="11.36" fill="#60ff9f"/><rect x="1010.5" y="467.76" width="42" height="11.36" fill="#70ff8f"/><rect x="1010.5" y="457.00" width="42" height="11.36" fill="#80ff80"/><rect x="1010.5" y="446.24" width="42" height="11.36" fill="#8fff70"/><rect x="1010.5" y="435.48" width="42" height="11.36" fill="#9fff60"/><rect x="1010.5" y="424.72" width="42" height="11.36" fill="#afff50"/><rect x="1010.5" y="413.96" width="42" height="11.36" fill="#bfff40"/><rect x="1010.5" y="403.20" width="42" height="11.36" fill="#cfff30"/><rect x="1010.5" y="392.44" width="42" height="11.36" fill="#dfff20"/><rect x="1010.5" y="381.68" width="42" height="11.36" fill="#efff10"/><rect x="1010.5" y="370.93" width="42" height="11.36" fill="#ffff00"/><rect x="1010.5" y="360.17" width="42" height="11.36" fill="#ffef00"/><rect x="1010.5" y="349.41" width="42" height="11.36" fill="#ffdf00"/><rect x="1010.5" y="338.65" width="42" height="11.36" fill="#ffcf00"/><rect x="1010.5" y="327.89" width="42" height="11.36" fill="#ffbf00"/><rect x="1010.5" y="317.13" width="42" height="11.36" fill="#ffaf00"/><rect x="1010.5" y="306.37" width="42" height="11.36" fill="#ff9f00"/><rect x="1010.5" y="295.61" width="42" height="11.36" fill="#ff8f00"/><rect x="1010.5" y="284.85" width="42" height="11.36" fill="#ff8000"/><rect x="1010.5" y="274.09" width="42" height="11.36" fill="#ff7000"/><rect x="1010.5" y="263.33" width="42" height="11.36" fill="#ff6000"/><rect x="1010.5" y="252.57" width="42" height="11.36" fill="#ff5000"/><rect x="1010.5" y="241.81" width="42" height="11.36" fill="#ff4000"/><rect x="1010.5" y="231.05" width="42" height="11.36" fill="#ff3000"/><rect x="1010.5" y="220.29" width="42" height="11.36" fill="#ff2000"/><rect x="1010.5" y="209.53" width="42" height="11.36" fill="#ff1000"/><rect x="1010.5" y="198.78" width="42" height="11.36" fill="#ff0000"/><rect x="1010.5" y="188.02" width="42" height="11.36" fill="#ef0000"/><rect x="1010.5" y="177.26" width="42" height="11.36" fill="#df0000"/><rect x="1010.5" y="166.50" width="42" height="11.36" fill="#cf0000"/><rect x="1010.5" y="155.74" width="42" height="11.36" fill="#bf0000"/><rect x="1010.5" y="144.98" width="42" height="11.36" fill="#af0000"/><rect x="1010.5" y="134.22" width="42" height="11.36" fill="#9f0000"/><rect x="1010.5" y="123.46" width="42" height="11.36" fill="#8f0000"/><rect x="1010.5" y="112.70" width="42" height="11.36" fill="#800000"/>
<rect x="1010.5" y="113.5" width="42" height="688.5" fill="none" stroke="#000" stroke-width="1"/>
<path stroke="#000" stroke-width="1" d="M1010.5,342.5 h6 M1052.5,342.5 h-6"/><path stroke="#000" stroke-width="1" d="M1010.5,572.5 h6 M1052.5,572.5 h-6"/></g>
<text class="sans cb" x="1058.2" y="120.1">1</text>
<text class="sans cb" x="1058.2" y="348.3">0.95</text>
<text class="sans cb" x="1058.2" y="577.9">0.9</text>
<text class="sans cb" x="1058.2" y="807.6">0.85</text>
<text class="title" x="565.4" y="20.5">Shadow OKC 2 LPV200 Coverage Contours</text>
<text class="title" x="565.4" y="46.5">09/05/24</text>
<text class="title" x="565.4" y="72.5">Week 2330 Day 4</text>
<text class="axl" x="570" y="845.5">Longitude</text>
<text class="axl" transform="translate(111.5,454.5) rotate(-90)">Latitude</text>
<text class="tick" text-anchor="middle" x="247.14" y="823.2">-160</text>
<text class="tick" text-anchor="middle" x="378.66" y="823.2">-140</text>
<text class="tick" text-anchor="middle" x="510.18" y="823.2">-120</text>
<text class="tick" text-anchor="middle" x="641.7" y="823.2">-100</text>
<text class="tick" text-anchor="middle" x="773.22" y="823.2">-80</text>
<text class="tick" text-anchor="middle" x="904.74" y="823.2">-60</text>
<text class="tick" text-anchor="end" x="148.8" y="806.7">10</text>
<text class="tick" text-anchor="end" x="148.8" y="700.777">20</text>
<text class="tick" text-anchor="end" x="148.8" y="594.854">30</text>
<text class="tick" text-anchor="end" x="148.8" y="488.931">40</text>
<text class="tick" text-anchor="end" x="148.8" y="383.008">50</text>
<text class="tick" text-anchor="end" x="148.8" y="277.085">60</text>
<text class="tick" text-anchor="end" x="148.8" y="171.162">70</text>
<text class="tbl" xml:space="preserve" x="162" y="530.8">Percent| CONUS   | Alaska  | Canada</text>
<text class="tbl" xml:space="preserve" x="162" y="551.2"> Avail.|Coverage |Coverage | Coverage</text>
<text class="tbl" xml:space="preserve" x="162" y="573">  95   | 0.00%  | 0.00% | 0.00%</text>
<text class="tbl" xml:space="preserve" x="162" y="594">  98   | 0.00%  | 0.00% | 0.00%</text>
<text class="tbl" xml:space="preserve" x="162" y="615">  99   | 0.00%  | 0.00% | 0.00%</text>
<text class="tbl" xml:space="preserve" x="162" y="636">99.9   | 0.00%  | 0.00% | 0.00%</text>
<text class="tbl" xml:space="preserve" x="162" y="657"> 100   | 0.00%  | 0.00% | 0.00%</text>
<path d="M163,557.5 H502" stroke="#000" stroke-width="1" stroke-dasharray="6 3" shape-rendering="crispEdges" fill="none"/>
<g transform="translate(187,746.5) scale(1,1.33)"><text class="sm" xml:space="preserve" x="0" y="0">W.J.H. FAA Technical Center</text></g>
<g transform="translate(187,760) scale(1,1.33)"><text class="sm" xml:space="preserve" x="0" y="0">WAAS Test Team</text></g>
</svg>
</body></html>
